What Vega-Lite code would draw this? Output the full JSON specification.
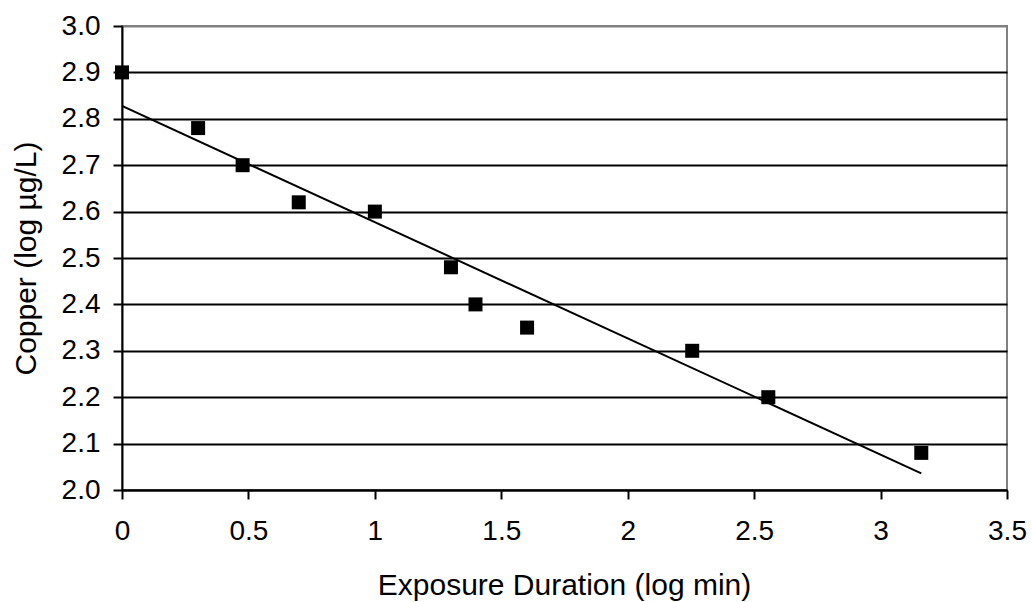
{
  "$schema": "https://vega.github.io/schema/vega-lite/v6.json",
  "autosize": {"type": "none"},
  "width": 885,
  "height": 464,
  "padding": {"left": 122, "top": 26, "right": 25, "bottom": 112},
  "background": "white",
  "config": {
    "view": {"stroke": "#808080", "strokeWidth": 2},
    "font": "Liberation Sans",
    "axis": {
      "labelFont": "Liberation Sans",
      "titleFont": "Liberation Sans",
      "labelFontSize": 28,
      "titleFontSize": 30,
      "titleFontWeight": "normal",
      "labelColor": "black",
      "titleColor": "black",
      "domainColor": "black",
      "domainWidth": 2,
      "tickColor": "black",
      "tickWidth": 2,
      "tickSize": 9,
      "labelFlush": false
    }
  },
  "data": {
    "values": [
      {"x": 0, "y": 2.9},
      {"x": 0.301, "y": 2.78},
      {"x": 0.477, "y": 2.70},
      {"x": 0.699, "y": 2.62},
      {"x": 1.0, "y": 2.60},
      {"x": 1.301, "y": 2.48},
      {"x": 1.398, "y": 2.40},
      {"x": 1.602, "y": 2.35},
      {"x": 2.255, "y": 2.30},
      {"x": 2.556, "y": 2.20},
      {"x": 3.161, "y": 2.08}
    ]
  },
  "layer": [
    {
      "transform": [{"regression": "y", "on": "x", "extent": [0, 3.161]}],
      "mark": {"type": "line", "color": "black", "strokeWidth": 2, "clip": true},
      "encoding": {
        "x": {"field": "x", "type": "quantitative"},
        "y": {"field": "y", "type": "quantitative"}
      }
    },
    {
      "mark": {"type": "point", "shape": "square", "filled": true, "color": "black", "opacity": 1, "size": 196},
      "encoding": {
        "x": {
          "field": "x",
          "type": "quantitative",
          "scale": {"domain": [0, 3.5], "nice": false, "zero": false},
          "axis": {
            "values": [0, 0.5, 1, 1.5, 2, 2.5, 3, 3.5],
            "format": "~g",
            "grid": false,
            "labelPadding": 18,
            "labelOverlap": false,
            "title": "Exposure Duration (log min)",
            "titleBaseline": "alphabetic",
            "titleX": 442,
            "titleY": 104,
            "titleAnchor": "middle",
            "titleAlign": "center"
          }
        },
        "y": {
          "field": "y",
          "type": "quantitative",
          "scale": {"domain": [2, 3], "nice": false, "zero": false},
          "axis": {
            "values": [2.0, 2.1, 2.2, 2.3, 2.4, 2.5, 2.6, 2.7, 2.8, 2.9, 3.0],
            "format": ".1f",
            "grid": true,
            "gridColor": {"condition": {"test": "datum.value >= 2.95", "value": "#808080"}, "value": "black"},
            "gridWidth": 2,
            "gridOpacity": 1,
            "labelPadding": 13,
            "labelOverlap": false,
            "title": "Copper (log µg/L)",
            "titleBaseline": "alphabetic",
            "titleX": -87,
            "titleY": 232,
            "titleAngle": -90,
            "titleAlign": "center"
          }
        }
      }
    }
  ]
}
